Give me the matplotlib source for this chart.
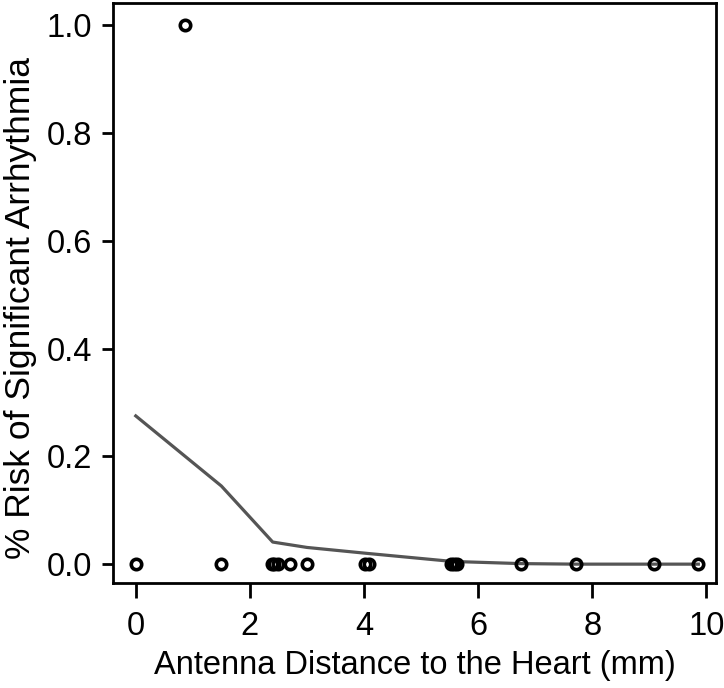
import matplotlib
matplotlib.use('Agg')
import matplotlib.pyplot as plt
import numpy as np

plt.rcParams['font.family'] = ['Liberation Sans', 'DejaVu Sans']

# 数据点（距离 mm，风险）
距离 = [0.0, 0.86, 1.5, 2.38, 2.43, 2.49, 2.71, 3.0, 4.02, 4.08, 5.52, 5.58, 5.63, 6.75, 7.71, 9.08, 9.86]
风险 = [0, 1, 0, 0, 0, 0, 0, 0, 0, 0, 0, 0, 0, 0, 0, 0, 0]
# 拟合曲线
拟合x = [0.0, 1.5, 2.4, 3.0, 4.05, 5.55, 6.75, 7.71, 9.08, 9.86]
拟合y = [0.275, 0.145, 0.041, 0.031, 0.02, 0.005, 0.001, 0.0, 0.0, 0.0]

fig = plt.figure(figsize=(7.24, 6.88), dpi=100)
ax = fig.add_axes([0.156, 0.1526, 0.833, 0.843])

ax.plot(拟合x, 拟合y, color='#555555', lw=2.3, zorder=2)
ax.plot(距离, 风险, linestyle='none', marker='o', ms=7.5, mew=2.6,
        mfc='none', mec='black', zorder=3)

ax.set_xlim(-0.4, 10.17)
ax.set_ylim(-0.035, 1.041)
ax.set_xticks([0, 2, 4, 6, 8, 10])
ax.set_yticks([0.0, 0.2, 0.4, 0.6, 0.8, 1.0])
ax.set_yticklabels(['0.0', '0.2', '0.4', '0.6', '0.8', '1.0'])

for s in ax.spines.values():
    s.set_linewidth(2)
ax.tick_params(axis='x', length=11, width=2, pad=9, labelsize=23.5)
ax.tick_params(axis='y', length=8, width=2, pad=7, labelsize=23.5)

ax.set_xlabel('Antenna Distance to the Heart (mm)', fontsize=23.5, labelpad=6)
ax.set_ylabel('% Risk of Significant Arrhythmia', fontsize=25.5)
ax.yaxis.set_label_coords(-0.126, 0.474)

fig.savefig('out.png', dpi=100)
